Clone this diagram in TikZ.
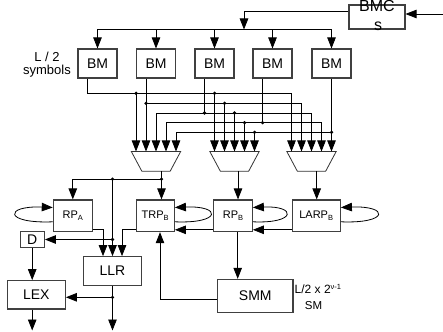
\documentclass[tikz,border=0pt]{standalone}
\usepackage{fontspec}
\setmainfont{Liberation Sans}
\usetikzlibrary{arrows.meta,calc}
\newcommand\mysub[1]{\raisebox{-2pt}{\fontsize{7.5}{8}\selectfont #1}}
\newcommand\mysup[1]{\raisebox{4.5pt}{\fontsize{7.5}{8}\selectfont #1}}
\begin{document}
\begin{tikzpicture}[x=1pt,y=-1pt,
  box/.style={draw=black!75, line width=1.1pt, inner sep=0pt, font=\fontsize{14}{16}\selectfont},
  sbox/.style={box, font=\fontsize{11}{13}\selectfont, minimum height=31.7pt},
  ln/.style={line width=0.8pt},
  arr/.style={ln, -{Triangle[length=11pt,width=8.5pt]}},
  arrs/.style={ln, {Triangle[length=11pt,width=8.5pt]}-{Triangle[length=11pt,width=8.5pt]}},
  jdot/.style={circle, fill, inner sep=0pt, minimum size=3.6pt},
  muxbox/.style={inner sep=0pt, minimum width=49pt, minimum height=19.3pt},
  lbl/.style={inner sep=0pt, font=\fontsize{13}{14}\selectfont}
]
\useasboundingbox (0,0) rectangle (443,331);

% BMCs
\node[box, minimum width=56pt, minimum height=24pt] (bmcs) at (377,17) {};
\node[lbl, anchor=base, font=\fontsize{16}{16}\selectfont] (bmct) at (377,12) {BMC};
\node[lbl, anchor=base, font=\fontsize{16}{16}\selectfont] (bmcs2) at (378,31) {s};
\coordinate (in) at (443,14);
\draw[arr] (in) -- (bmcs.east |- in);
\coordinate (busin) at (244,29.5);
\draw[arr] ([yshift=6pt]bmcs.west) -| (busin);

% BM row
\foreach \i/\x in {1/97.5,2/156,3/214.5,4/272.5,5/331.5}
  \node[box, minimum width=39pt, minimum height=29pt] (bm\i) at (\x,63.5) {BM};
\draw[ln] (bm1.north |- busin) -- (bm5.north |- busin);
\foreach \i in {1,...,5} \draw[arr] (bm\i.north |- busin) -- (bm\i.north);

\node[lbl] (l2) at (47,57) {L / 2};
\node[lbl] (sym) at (47,71) {symbols};

% muxes
\foreach \m/\x in {1/156,2/234.5,3/311.5}{
  \node[muxbox] (mux\m) at (\x,161.3) {};
  \draw[ln, black!80] (mux\m.north west) -- (mux\m.north east) -- ([xshift=-10.5pt]mux\m.south east) -- ([xshift=10.5pt]mux\m.south west) -- cycle;
  \foreach \i/\dx in {1/-20,2/-10,3/0,4/10,5/20}
    \coordinate (m\m-\i) at ([xshift=\dx pt]mux\m.north);
}

% BM outputs
\foreach \i in {1,...,4} \coordinate (bm\i o) at ([xshift=-10pt]bm\i.south);
\coordinate (bm5o) at (bm5.south);
\coordinate (r1) at (0,93.3);
\coordinate (r2) at (0,103.3);
\coordinate (r3) at (0,113);
\coordinate (r4) at (0,122.7);
\coordinate (r5) at (0,132.3);

% row 1
\draw[arr] (bm1o) |- (m3-1 |- r1) -- (m3-1);
\draw[arr] (m1-1 |- r1) -- (m1-1);
\draw[arr] (m2-1 |- r1) -- (m2-1);
\node[jdot] at (m1-1 |- r1) {};
\node[jdot] at (m2-1 |- r1) {};
% row 2
\draw[arr] (bm2o) -- (m1-2);
\draw[arr] (m1-2 |- r2) -| (m3-2);
\draw[arr] (m2-2 |- r2) -- (m2-2);
\node[jdot] at (m1-2 |- r2) {};
\node[jdot] at (m2-2 |- r2) {};
% row 3
\draw[ln] (bm3o) -- (bm3o |- r3);
\draw[arrs] (m1-3) |- (m3-3 |- r3) -- (m3-3);
\draw[arr] (m2-3 |- r3) -- (m2-3);
\node[jdot] at (bm3o |- r3) {};
\node[jdot] at (m2-3 |- r3) {};
% row 4
\draw[ln] (bm4o) -- (bm4o |- r4);
\draw[arrs] (m1-4) |- (m3-4 |- r4) -- (m3-4);
\draw[arr] (m2-4 |- r4) -- (m2-4);
\node[jdot] at (bm4o |- r4) {};
\node[jdot] at (m2-4 |- r4) {};
% row 5
\draw[arr] (bm5o) -- (m3-5);
\draw[arr] (bm5o |- r5) -| (m1-5);
\draw[arr] (m2-5 |- r5) -- (m2-5);
\node[jdot] at (bm5o |- r5) {};
\node[jdot] at (m2-5 |- r5) {};

% lower boxes
\node[sbox, minimum width=39pt] (rpa) at (72.8,215.8) {RP\mysub{A}};
\node[sbox, minimum width=38.3pt] (trpb) at (155.2,215.8) {TRP\mysub{B}};
\node[sbox, minimum width=38.6pt] (rpb) at (233,215.8) {RP\mysub{B}};
\node[sbox, minimum width=48.3pt] (larpb) at (316.2,215.8) {LARP\mysub{B}};
\node[box, minimum width=24.3pt, minimum height=15.6pt] (d) at (32.2,239.5) {D};
\node[box, minimum width=58.4pt, minimum height=28.6pt] (llr) at (112.5,271) {LLR};
\node[box, minimum width=58pt, minimum height=28.3pt] (lex) at (36.3,294.8) {LEX};
\node[box, minimum width=75.3pt, minimum height=32.7pt] (smm) at (255.3,295.7) {SMM};
\node[inner sep=0pt, anchor=west, font=\fontsize{12}{13}\selectfont] (smlab) at (294.5,289) {L/2 x 2\mysup{ν-1}};
\node[inner sep=0pt, font=\fontsize{11.5}{13}\selectfont] (smlab2) at (313.5,306) {SM};

% mux outputs
\coordinate (o1) at ([xshift=5.5pt]mux1.south);
\coordinate (o2) at ([xshift=3.5pt]mux2.south);
\coordinate (o3) at ([xshift=5.2pt]mux3.south);
\draw[arr] (o1) -- (trpb.north -| o1);
\draw[arr] (o2) -- (rpb.north -| o2);
\draw[arr] (o3) -- (larpb.north -| o3);

\coordinate (j1) at ($(o1)+(0,8)$);
\coordinate (j2) at (llr.north |- j1);
\coordinate (j3) at (llr.north |- d.east);
\draw[arr] (j1) -| (rpa.north);
\draw[arr] (j2) -- (llr.north);
\draw[arr] (j3) -- (d.east);
\node[jdot] at (j1) {};
\node[jdot] at (j2) {};
\node[jdot] at (j3) {};

\draw[arr] ([yshift=2.4pt]rpa.south east) -| ([xshift=-9.5pt]llr.north);
\draw[arr] ([yshift=2.4pt]trpb.south west) -| ([xshift=9.5pt]llr.north);
\draw[arr] ([yshift=2.4pt]rpb.south west) -- ([yshift=2.4pt]trpb.south east);
\draw[arr] ([yshift=2.4pt]larpb.south west) -- ([yshift=2.4pt]rpb.south east);

% self loops
\draw[arr] ([yshift=-6pt]rpa.west) .. controls +(-49,2) and +(-49,-2) .. ([yshift=8.3pt]rpa.west);
\draw[arr] ([yshift=-6pt]trpb.east) .. controls +(47,2) and +(47,-2) .. ([yshift=8.3pt]trpb.east);
\draw[arr] ([yshift=-6pt]rpb.east) .. controls +(44,2) and +(44,-2) .. ([yshift=8.3pt]rpb.east);
\draw[arr] ([yshift=-6pt]larpb.east) .. controls +(48.5,2) and +(48.5,-2) .. ([yshift=8.3pt]larpb.east);

% RPB to SMM, SMM to TRPB
\coordinate (rpbo) at ([xshift=4.7pt]rpb.south);
\draw[arr] (rpbo) -- (smm.north -| rpbo);
\draw[arr] ([yshift=-3.3pt]smm.west) -| ([xshift=4.8pt]trpb.south);

% D, LEX, LLR outputs
\draw[arr] (d.south) -- (lex.north -| d.south);
\coordinate (lexend) at (32.2,330.5);
\draw[arr] (lex.south -| lexend) -- (lexend);
\coordinate (llrend) at (112.5,330.5);
\coordinate (j4) at (112.5,297.3);
\draw[arr] (llr.south) -- (llrend);
\draw[arr] (j4) -- (lex.east |- j4);
\node[jdot] at (j4) {};
\end{tikzpicture}
\end{document}
